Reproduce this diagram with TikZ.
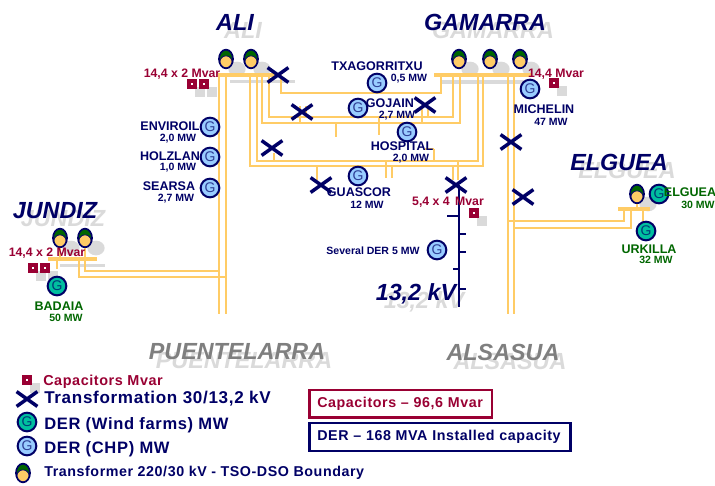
\documentclass[tikz,border=0pt]{standalone}
\usepackage{fontspec}
\setmainfont{Liberation Sans}
\newfontfamily\wideFont[LetterSpace=4]{Liberation Sans}
\usetikzlibrary{calc, shapes.misc, shapes.geometric}

\definecolor{navyColour}{HTML}{000066}
\definecolor{feederColour}{HTML}{FFCC66}
\definecolor{capColour}{HTML}{990033}
\definecolor{derGreen}{HTML}{006600}
\definecolor{windFill}{HTML}{00BF9F}
\definecolor{chpFill}{HTML}{99CCFF}
\definecolor{shadowColour}{HTML}{DADADA}
\definecolor{siteGrey}{HTML}{7F7F7F}

\tikzset{
    feeder/.style={draw=feederColour, line width=1.5pt},
    busbar/.style={draw=feederColour, line width=2.6pt},
    lvbus/.style={draw=navyColour, line width=1.3pt},
    crossmark/.style={cross out, draw=navyColour, line width=2.6pt, minimum width=13pt, minimum height=8.5pt, inner sep=0pt},
    capbox/.style={rectangle, draw=capColour, line width=2.6pt, fill=white, minimum size=4.3pt, inner sep=0pt},
    capshadow/.style={rectangle, fill=shadowColour, minimum size=8pt, inner sep=0pt},
    genbase/.style={circle, draw=navyColour, line width=1.5pt, minimum size=14pt, inner sep=0pt, font=\fontsize{10.5}{10.5}\selectfont},
    chp/.style={genbase, fill=chpFill, text=navyColour!70!chpFill},
    wind/.style={genbase, fill=windFill, text=navyColour!70!windFill},
    trafo/.style={ellipse, draw=navyColour, line width=1.3pt, fill=derGreen, minimum width=10.5pt, minimum height=14pt, inner sep=0pt,
        path picture={\filldraw[fill=feederColour, draw=navyColour, line width=.6pt] ($(path picture bounding box.center)+(0,3)$) circle (4.6pt);}},
    trafoshadow/.style={ellipse, fill=shadowColour, minimum width=13pt, minimum height=11pt, inner sep=0pt},
    sitename/.style={font=\fontsize{17.5}{17.5}\selectfont\bfseries\itshape, text=navyColour, inner sep=0pt},
    siteshadow/.style={font=\fontsize{17.5}{17.5}\selectfont\bfseries\itshape, text=shadowColour, inner sep=0pt},
    greysite/.style={font=\fontsize{17.5}{17.5}\selectfont\bfseries\itshape, text=siteGrey, inner sep=0pt},
    dername/.style={font=\fontsize{9.4}{9.4}\selectfont\bfseries, text=navyColour, inner sep=0pt},
    derpower/.style={font=\fontsize{7.9}{7.9}\selectfont\bfseries, text=navyColour, inner sep=0pt},
    windname/.style={dername, text=derGreen},
    windpower/.style={derpower, text=derGreen},
    caplabel/.style={font=\fontsize{9.2}{9.2}\selectfont\bfseries, text=capColour, inner sep=0pt},
    legendtext/.style={anchor=west, font=\fontsize{12.4}{12.4}\wideFont\bfseries, text=navyColour, inner sep=0pt},
    totalbox/.style={draw=#1, line width=2pt, fill=white, anchor=west, align=left, inner sep=0pt,
        font=\fontsize{10.7}{10.7}\wideFont\bfseries, text=#1}
}

\begin{document}
\begin{tikzpicture}[x=0.75pt, y=-0.75pt]
    \useasboundingbox (0,0) rectangle (715,486);

    % Site titles with their shadow
    \foreach \site/\x/\y/\txt in {Ali/235/22/ALI, Gamarra/485/22/GAMARRA, Elguea/619/162/ELGUEA, Jundiz/55/211/JUNDIZ, Kv/416/294/{13,2 kV}}
    {
        \node[siteshadow] (\site Shadow) at (\x+8,\y+8) {\txt};
        \node[sitename] (\site) at (\x,\y) {\txt};
    }
    \node[siteshadow] (PuenteShadow) at (244,361) {PUENTELARRA};
    \node[greysite] (Puente) at (237,352) {PUENTELARRA};
    \node[siteshadow] (AlsasuaShadow) at (510,361) {ALSASUA};
    \node[greysite] (Alsasua) at (503,352) {ALSASUA};

    % Shadows of transformers and capacitors
    \foreach \n/\x/\y in {a/226/59, b/251/59, c/459/59, d/490/59, e/520/59, f/60/238, g/85/238, h/637/194}
        \node[trafoshadow] (shade\n) at (\x+11,\y+10) {};
    \foreach \n/\x/\y in {a/192/84, b/204/84, c/554/83, d/33/268, e/45/268, f/474/213, g/27/380}
        \node[capshadow] (capshade\n) at (\x+8,\y+8) {};
    \fill[shadowColour] (230,80) rectangle (295,83);
    \fill[shadowColour] (442,80) rectangle (527,84);
    \fill[shadowColour] (60,264) rectangle (105,267);

    % Bus coordinates
    \foreach \n/\x in {1/250, 2/257, 3/262, 4/269, 5/281}
        \coordinate (aliF\n) at (\x,75);
    \foreach \n/\x in {1/483, 2/478, 3/460, 4/453, 5/441}
        \coordinate (gamF\n) at (\x,75);
    \coordinate (aliW) at (218,75);
    \coordinate (aliE) at (281,75);
    \coordinate (gamW) at (434,75);
    \coordinate (gamE) at (532,75);
    \coordinate (junW) at (48,259);
    \coordinate (junE) at (97,259);
    \coordinate (elgW) at (618,209);
    \coordinate (elgE) at (650,209);

    % Feeders between ALI and GAMARRA
    \draw[feeder] (aliF1) -- ++(0,91) -| (gamF1);
    \draw[feeder] (aliF2) -- ++(0,86) -| (gamF2);
    \draw[feeder] (aliF3) -- ++(0,48) -| (gamF3);
    \draw[feeder] (aliF4) -- ++(0,42) -| (gamF4);
    \draw[feeder] (aliF5) -- ++(0,18) -| (gamF5);

    % Long feeders to the other sites
    \draw[feeder] (219,75) -- (219,314);
    \draw[feeder] (226,75) -- (226,314);
    \draw[feeder] (508,75) -- (508,314);
    \draw[feeder] (514,75) -- (514,314);
    \draw[feeder] (85,259) |- (219,271);
    \draw[feeder] (79,259) |- (226,277);
    \draw[feeder] (624,209) |- (508,221);
    \draw[feeder] (631,209) |- (514,228);

    % Busbars
    \draw[busbar] (aliW) -- (aliE);
    \draw[busbar] (gamW) -- (gamE);
    \draw[busbar] (junW) -- (junE);
    \draw[busbar] (elgW) -- (elgE);

    % Transformers 220/30
    \foreach \n/\x/\y in {AliA/226/59, AliB/251/59, GamA/459/59, GamB/490/59, GamC/520/59, JunA/60/238, JunB/85/238, ElgA/637/194}
        \node[trafo] (trafo\n) at (\x,\y) {};
    \draw[feeder] (trafoJunA) -- (60,259);
    \draw[feeder] (trafoJunB) -- (85,259);
    \draw[feeder] (trafoElgA) -- (637,209);

    % Stubs towards the 30/13,2 transformers
    \foreach \x/\ya/\yb in {300/106/123, 306/106/117, 336/123/137, 379/117/135, 422/107/123, 428/107/117,
        274/153/161, 317/166/180, 386/161/178, 392/166/178, 453/166/180, 458/161/180, 434/149/161, 57/259/269, 643/209/222}
        \draw[feeder] (\x,\ya) -- (\x,\yb);
    \draw[feeder] (425,149) -- (434,149);

    % 13,2 kV bus with its tees
    \coordinate (lvTop) at (459,185);
    \coordinate (lvEnd) at (459,307);
    \draw[lvbus] (lvTop) -- (lvEnd);
    \foreach \y/\dx in {216/-12, 234/7, 252/7, 269/-6, 289/7}
        \draw[lvbus] (459,\y) -- ++(\dx,0);

    % Transformers 30/13,2
    \foreach \n/\x/\y in {a/278/75, b/302/112, c/272/148, d/321/185, e/425/105, f/456/185, g/511/142, h/523/197, i/27/399}
        \node[crossmark] (cross\n) at (\x,\y) {};

    % Capacitors
    \foreach \n/\x/\y in {a/192/84, b/204/84, c/554/83, d/33/268, e/45/268, f/474/213, g/27/380}
        \node[capbox] (cap\n) at (\x,\y) {};

    % DER (CHP)
    \foreach \n/\x/\y in {Enviroil/210/127, Holzlan/210/157, Searsa/210/188, Txago/377/83, Gojain/358/108, Hospital/407/132, Guascor/358/176, Michelin/530/89, Several/437/250, Legend/27/446}
        \node[chp] (gen\n) at (\x,\y) {G};
    % DER (Wind farms)
    \foreach \n/\x/\y in {Badaia/57/286, ElgueaGen/659/194, Urkilla/646/231, LegendW/27/422}
        \node[wind] (gen\n) at (\x,\y) {G};

    % Labels of the DER
    \node[dername] (lblEnviroil) at (170,126) {ENVIROIL};
    \node[derpower] (mwEnviroil) at (178,139) {2,0 MW};
    \node[dername] (lblHolzlan) at (170,156) {HOLZLAN};
    \node[derpower] (mwHolzlan) at (178,168) {1,0 MW};
    \node[dername] (lblSearsa) at (169,186) {SEARSA};
    \node[derpower] (mwSearsa) at (176,199) {2,7 MW};
    \node[dername] (lblTxago) at (377,66) {TXAGORRITXU};
    \node[derpower] (mwTxago) at (409,79) {0,5 MW};
    \node[dername] (lblGojain) at (390,103) {GOJAIN};
    \node[derpower] (mwGojain) at (397,116) {2,7 MW};
    \node[dername] (lblHospital) at (402,146) {HOSPITAL};
    \node[derpower] (mwHospital) at (411,159) {2,0 MW};
    \node[dername] (lblGuascor) at (359,192) {GUASCOR};
    \node[derpower] (mwGuascor) at (367,205) {12 MW};
    \node[dername] (lblMichelin) at (544,109) {MICHELIN};
    \node[derpower] (mwMichelin) at (551,122) {47 MW};
    \node[derpower] (lblSeveral) at (373,251) {Several DER 5 MW};
    \node[windname] (lblBadaia) at (59,306) {BADAIA};
    \node[windpower] (mwBadaia) at (66,318) {50 MW};
    \node[windname] (lblElguea) at (690,192) {ELGUEA};
    \node[windpower] (mwElguea) at (698,205) {30 MW};
    \node[windname] (lblUrkilla) at (649,249) {URKILLA};
    \node[windpower] (mwUrkilla) at (656,260) {32 MW};

    % Capacitor ratings
    \node[caplabel] (capAli) at (182,74) {14,4 x 2 Mvar};
    \node[caplabel] (capGam) at (556,74) {14,4 Mvar};
    \node[caplabel] (capKv) at (448,202) {5,4 x 4\, Mvar};
    \node[caplabel] (capJun) at (47,253) {14,4 x 2 Mvar};

    % Legend
    \node[legendtext, text=capColour, font=\fontsize{10.8}{10.8}\wideFont\bfseries] (legCap) at (43,382) {Capacitors Mvar};
    \node[legendtext, font=\fontsize{12.8}{12.8}\wideFont\bfseries] (legCross) at (44,399) {Transformation 30/13,2 kV};
    \node[legendtext] (legWind) at (44,425) {DER (Wind farms) MW};
    \node[legendtext] (legChp) at (44,449) {DER (CHP) MW};
    \node[legendtext, font=\fontsize{10.7}{10.7}\wideFont\bfseries] (legTrafo) at (44,473) {Transformer 220/30 kV - TSO-DSO Boundary};
    \node[trafo] (trafoLegend) at (23,473) {};

    % Totals
    \node[totalbox=capColour, text width=137pt, minimum height=20.5pt] (totalCap) at (308,403.5) {\hspace*{6pt}Capacitors – 96,6 Mvar};
    \node[totalbox=navyColour, text width=196pt, minimum height=21pt] (totalDer) at (308,437) {\hspace*{6pt}DER – 168 MVA Installed capacity};
\end{tikzpicture}
\end{document}
